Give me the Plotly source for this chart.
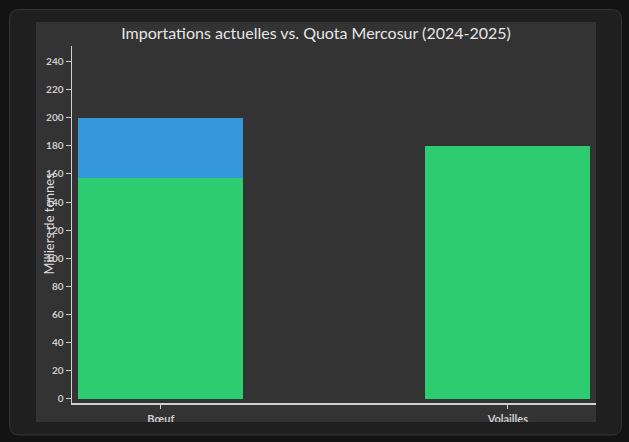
import plotly.graph_objects as go

categories = ["Bœuf", "Volailles"]
quota_values = [200, 180]
import_values = [157, 180]
y_ticks = list(range(0, 241, 20))

W, H = 629, 442
def px(x):
    return x / W
def py(y):
    return 1 - y / H

PAGE_BG = "#131313"
CARD_BG = "#1f1f1f"
CARD_BORDER = "#333333"
INNER_BG = "#333333"
TEXT = "#cccccc"
FONT = "Lato, 'Open Sans', sans-serif"

fig = go.Figure()
fig.add_trace(go.Bar(x=categories, y=quota_values, name="Quota Mercosur",
                     marker=dict(color="#3498db", line=dict(width=0)), width=0.4755))
fig.add_trace(go.Bar(x=categories, y=import_values, name="Importations actuelles",
                     marker=dict(color="#2ecc71", line=dict(width=0)), width=0.4755))

# rounded card
x0, x1, y0, y1, r = 9.5, 621.5, 9.5, 435, 10
def P(x, y):
    return f"{px(x)},{py(y)}"
card = (f"M {P(x0+r,y0)} L {P(x1-r,y0)} Q {P(x1,y0)} {P(x1,y0+r)} "
        f"L {P(x1,y1-r)} Q {P(x1,y1)} {P(x1-r,y1)} L {P(x0+r,y1)} "
        f"Q {P(x0,y1)} {P(x0,y1-r)} L {P(x0,y0+r)} Q {P(x0,y0)} {P(x0+r,y0)} Z")

shapes = [
    dict(type="path", path=card, xref="paper", yref="paper", fillcolor=CARD_BG,
         line=dict(color=CARD_BORDER, width=1), layer="below"),
    dict(type="rect", xref="paper", yref="paper", x0=px(36), x1=px(596), y0=py(422), y1=py(22),
         fillcolor=INNER_BG, line=dict(width=0), layer="below"),
    # clip tick labels at the bottom of the inner area
    dict(type="rect", xref="paper", yref="paper", x0=px(36), x1=px(597), y0=py(434), y1=py(422),
         fillcolor=CARD_BG, line=dict(width=0), layer="above"),
]

fig.update_layout(
    width=W, height=H,
    margin=dict(l=0, r=0, t=0, b=0),
    paper_bgcolor=PAGE_BG, plot_bgcolor="rgba(0,0,0,0)",
    barmode="overlay", showlegend=False, bargap=0,
    font=dict(family=FONT, color=TEXT),
    shapes=shapes,
    title=dict(text="Importations actuelles vs. Quota Mercosur (2024-2025)",
               x=px(316), xanchor="center", y=py(33), yanchor="middle",
               font=dict(family=FONT, size=16, color="#e6e6e6")),
    xaxis=dict(domain=[px(72), px(596)], range=[-0.256, 1.254],
               showline=True, linecolor="#d0d0d0", linewidth=1.5,
               ticks="outside", ticklen=4, tickcolor="#d0d0d0",
               showgrid=False, zeroline=False, ticklabelstandoff=1,
               tickfont=dict(family=FONT, size=11, color=TEXT, weight="bold")),
    yaxis=dict(domain=[py(403), py(46)], range=[-3, 251],
               tickvals=y_ticks,
               showline=True, linecolor="#d0d0d0", linewidth=1.5,
               ticks="outside", ticklen=5, tickcolor="#d0d0d0",
               showgrid=False, zeroline=False,
               tickfont=dict(family=FONT, size=10, color=TEXT, weight="bold")),
    annotations=[dict(text="Milliers de tonnes", xref="paper", yref="paper",
                      x=px(48.5), y=py(224), textangle=-90, showarrow=False,
                      xanchor="center", yanchor="middle",
                      font=dict(family=FONT, size=13, color="#dddddd"))],
)

fig.write_html("out.html", config={"displayModeBar": False, "staticPlot": True})

# remove default page margins so the figure fills the window exactly
with open("out.html", encoding="utf-8") as f:
    html = f.read()
html = html.replace("<head>", "<head><style>html,body{margin:0;padding:0;overflow:hidden;background:#131313;}</style>", 1)
with open("out.html", "w", encoding="utf-8") as f:
    f.write(html)
